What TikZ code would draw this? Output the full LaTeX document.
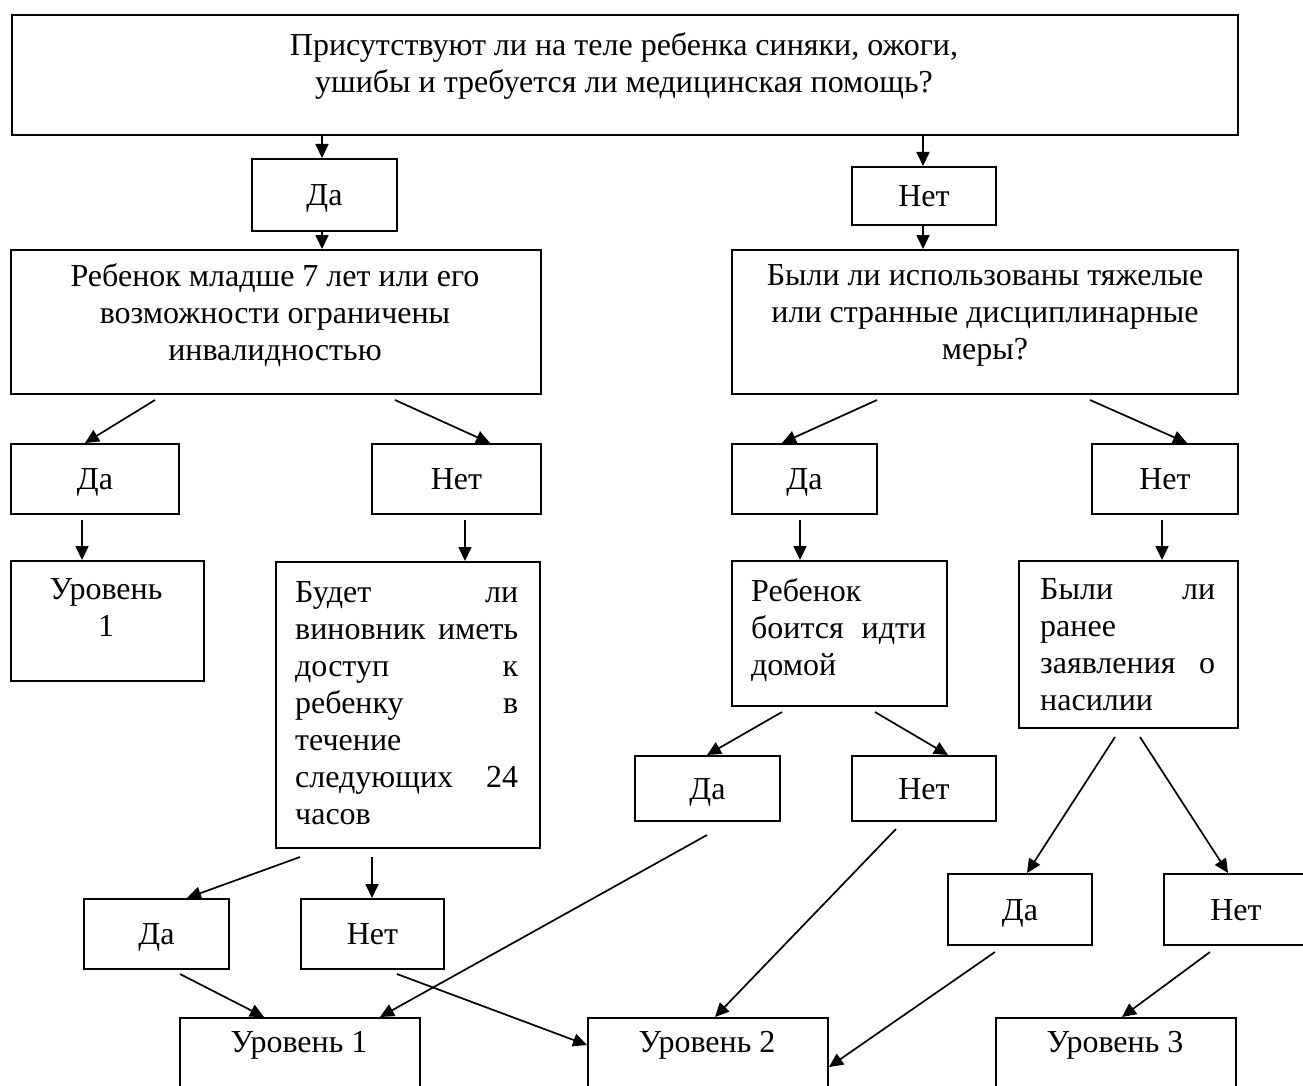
\documentclass[tikz,border=0pt]{standalone}
\usepackage{fontspec}
\setmainfont{Liberation Serif}
\usetikzlibrary{arrows.meta,calc}
\begin{document}
\begin{tikzpicture}[x=1pt,y=-1pt,
  box/.style={draw, line width=2pt, inner sep=0pt, anchor=north west,
    font=\fontsize{32}{37}\selectfont, align=center, text height=25pt, text depth=4pt},
  txt/.style={inner sep=0pt, font=\fontsize{32}{37}\selectfont, align=center},
  jtxt/.style={inner sep=0pt, font=\fontsize{32}{37}\selectfont, align=left, anchor=north west},
  arr/.style={line width=1.7pt, -{Triangle[length=14pt,width=13pt]}}]
\useasboundingbox (0,0) rectangle (1303,1086);
\clip (0,0) rectangle (1303,1086);
\fill[white] (0,0) rectangle (1303,1086);

% boxes
\node[box, minimum width=1226pt, minimum height=120pt] (top) at (11,14) {};
\node[txt] (toptxt) at (624,66) {Присутствуют ли на теле ребенка синяки, ожоги,\\ушибы и требуется ли медицинская помощь?};

\node[box, minimum width=145pt, minimum height=72pt] (yes1) at (251,158) {Да};
\node[box, minimum width=144pt, minimum height=58pt] (no1) at (851,166) {Нет};

\node[box, minimum width=530pt, minimum height=144pt] (L) at (10,249) {};
\node[txt] (Ltxt) at (275,315) {Ребенок младше 7 лет или его\\возможности ограничены\\инвалидностью};
\node[box, minimum width=506pt, minimum height=144pt] (R) at (731,249) {};
\node[txt] (Rtxt) at (985,315) {Были ли использованы тяжелые\\или странные дисциплинарные\\меры?};

\node[box, minimum width=168pt, minimum height=70pt] (yes2) at (10,443) {Да};
\node[box, minimum width=169pt, minimum height=70pt] (no2) at (371,443) {Нет};
\node[box, minimum width=145pt, minimum height=70pt] (yes3) at (731,443) {Да};
\node[box, minimum width=146pt, minimum height=70pt] (no3) at (1091,443) {Нет};

\node[box, minimum width=193pt, minimum height=120pt] (lvl1a) at (10,560) {};
\node[txt] (lvl1atxt) at (106,608) {Уровень\\1};

\node[box, minimum width=264pt, minimum height=286pt] (will) at (275,561) {};
\node[jtxt, text width=223pt] (willtxt) at (295,581) {Будет\hfill ли\\виновник\hfill иметь\\доступ\hfill к\\ребенку\hfill в\\течение\\следующих\hfill 24\\часов};

\node[box, minimum width=215pt, minimum height=145pt] (afraid) at (731,560) {};
\node[jtxt, text width=175pt] (afraidtxt) at (751,578) {Ребенок\\боится\hfill идти\\домой};

\node[box, minimum width=219pt, minimum height=167pt] (prev) at (1018,560) {};
\node[jtxt, text width=175pt] (prevtxt) at (1040,578) {Были\hfill ли\\ранее\\заявления\hfill о\\насилии};

\node[box, minimum width=145pt, minimum height=65pt] (yes5) at (634,755) {Да};
\node[box, minimum width=144pt, minimum height=65pt] (no5) at (851,755) {Нет};

\node[box, minimum width=144pt, minimum height=71pt] (yes6) at (947,873) {Да};
\node[box, minimum width=144pt, minimum height=71pt] (no6) at (1163,873) {Нет};

\node[box, minimum width=145pt, minimum height=70pt] (yes4) at (83,898) {Да};
\node[box, minimum width=143pt, minimum height=70pt] (no4) at (300,898) {Нет};

\node[box, minimum width=240pt, minimum height=90pt] (lv1) at (179,1017) {};
\node[txt] (lv1txt) at (299,1045) {Уровень 1};
\node[box, minimum width=240pt, minimum height=90pt] (lv2) at (587,1017) {};
\node[txt] (lv2txt) at (707,1045) {Уровень 2};
\node[box, minimum width=240pt, minimum height=90pt] (lv3) at (995,1017) {};
\node[txt] (lv3txt) at (1115,1045) {Уровень 3};

% arrows
\draw[arr] ($(top.south west)+(311,0)$) -- ($(yes1.north west)+(71,0)$);
\draw[arr] ($(top.south west)+(912,0)$) -- ($(no1.north west)+(72,0)$);
\draw[arr] ($(yes1.south west)+(71,0)$) -- ($(L.north west)+(312,0)$);
\draw[arr] ($(no1.south west)+(72,0)$) -- ($(R.north west)+(192,0)$);

\draw[arr] ($(L.south west)+(145,5)$) -- ($(yes2.north west)+(75,0)$);
\draw[arr] ($(L.south west)+(385,5)$) -- ($(no2.north west)+(119,0)$);
\draw[arr] ($(R.south west)+(146,5)$) -- ($(yes3.north west)+(51,0)$);
\draw[arr] ($(R.south west)+(359,5)$) -- ($(no3.north west)+(96,0)$);

\draw[arr] ($(yes2.south west)+(72,5)$) -- ($(lvl1a.north west)+(72,0)$);
\draw[arr] ($(no2.south west)+(94,5)$) -- ($(will.north west)+(190,0)$);
\draw[arr] ($(yes3.south west)+(69,5)$) -- ($(afraid.north west)+(69,0)$);
\draw[arr] ($(no3.south west)+(71,5)$) -- ($(prev.north west)+(144,0)$);

\draw[arr] ($(afraid.south west)+(51,5)$) -- ($(yes5.north west)+(73,0)$);
\draw[arr] ($(afraid.south west)+(144,5)$) -- ($(no5.north west)+(97,0)$);
\draw[arr] ($(prev.south west)+(97,8)$) -- ($(yes6.north west)+(80,0)$);
\draw[arr] ($(prev.south west)+(122,8)$) -- ($(no6.north west)+(65,0)$);
\draw[arr] ($(will.south west)+(25,8)$) -- ($(yes4.north west)+(104,0)$);
\draw[arr] ($(will.south west)+(97,8)$) -- ($(no4.north west)+(72,0)$);

\draw[arr] ($(yes4.south west)+(97,4)$) -- ($(lv1.north west)+(85,0)$);
\draw[arr] ($(yes5.south west)+(73,13)$) -- ($(lv1.north west)+(201,0)$);
\draw[arr] ($(no4.south west)+(97,4)$) -- ($(lv2.north west)+(0,28)$);
\draw[arr] ($(no5.south west)+(45,7)$) -- ($(lv2.north west)+(128,0)$);
\draw[arr] ($(yes6.south west)+(48,6)$) -- ($(lv2.north east)+(0,50)$);
\draw[arr] ($(no6.south west)+(47,6)$) -- ($(lv3.north west)+(127,0)$);
\end{tikzpicture}
\end{document}
